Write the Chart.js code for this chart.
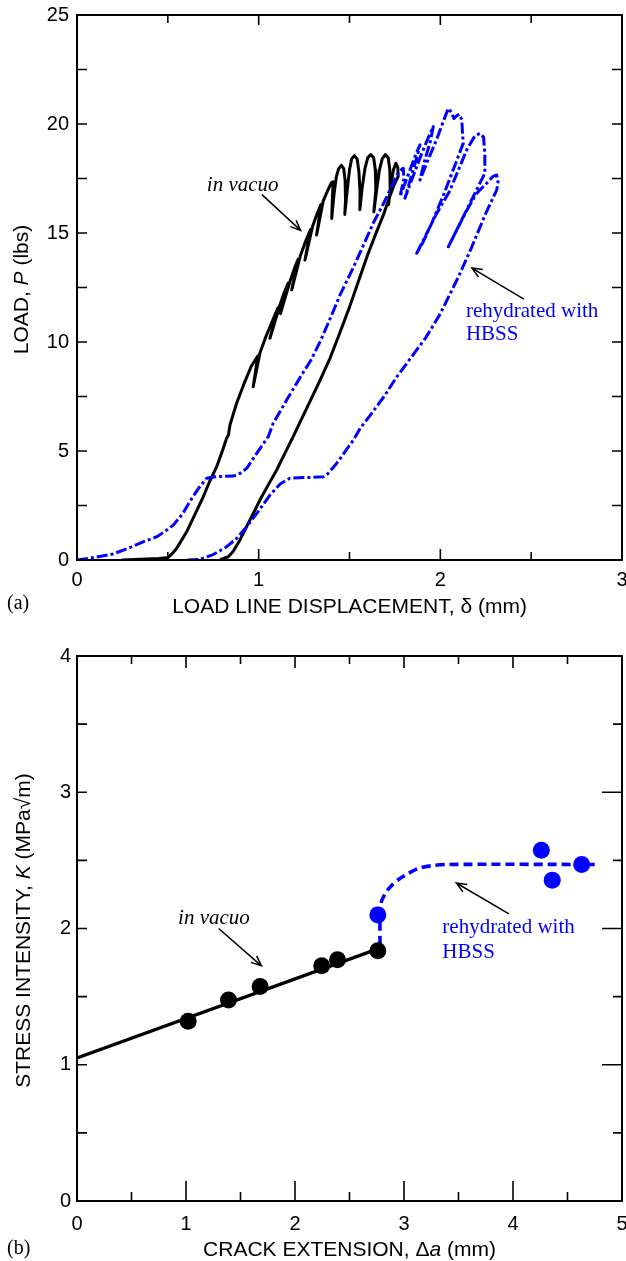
<!DOCTYPE html>
<html lang="en">
<head>
<meta charset="utf-8" />
<title>Load and stress intensity, in vacuo vs rehydrated</title>
<style>
  * { margin: 0; padding: 0; }
  body { width: 626px; height: 1261px; background: #fff; overflow: hidden; }
  .panel { position: absolute; left: 0; width: 626px; }
  #panelA { top: 0; height: 625px; }
  #panelB { top: 625px; height: 636px; }
</style>
</head>
<body>
<div class="panel" id="panelA"><canvas id="chartA" width="626" height="625"></canvas></div>
<div class="panel" id="panelB"><canvas id="chartB" width="626" height="636"></canvas></div>

<script src="https://cdn.jsdelivr.net/npm/chart.js"></script>
<script>
// ---------- panel (a): load vs load line displacement ----------
const dispTicks = [0, 1, 2, 3];
const loadTicks = [0, 5, 10, 15, 20, 25];

// [displacement mm, load lbs], in the order the trace was recorded
const vacuoCurve = [
  [0.246, 0.0], [0.35, 0.03], [0.45, 0.07], [0.502, 0.12], [0.525, 0.3], [0.549, 0.54],
  [0.575, 0.9], [0.604, 1.3], [0.65, 2.1], [0.695, 2.9], [0.73, 3.6], [0.769, 4.28],
  [0.80, 5.0], [0.824, 5.6], [0.834, 5.75], [0.842, 6.19], [0.879, 7.2], [0.92, 8.1],
  [0.96, 8.9], [0.995, 9.35],
  [0.97, 7.95], [1.007, 9.5], [1.04, 10.25], [1.08, 11.05], [1.106, 11.57],
  [1.062, 10.17], [1.118, 11.72], [1.14, 12.25], [1.1625, 12.7],
  [1.12, 11.3], [1.175, 12.85], [1.20, 13.45], [1.217, 13.79],
  [1.182, 12.39], [1.229, 13.94], [1.26, 14.65], [1.2855, 15.16],
  [1.255, 13.76], [1.297, 15.31], [1.32, 15.85], [1.343, 16.31],
  [1.319, 14.91], [1.355, 16.46], [1.38, 16.95], [1.40, 17.3],
  [1.41, 17.35], [1.405, 16.4], [1.402, 15.67],
  [1.415, 16.8], [1.428, 17.6], [1.44, 17.95], [1.455, 18.1], [1.468, 17.95], [1.476, 17.4], [1.478, 16.5], [1.474, 15.85],
  [1.488, 17.0], [1.50, 17.9], [1.512, 18.4], [1.527, 18.55], [1.542, 18.4], [1.552, 17.8], [1.558, 16.9], [1.557, 16.07],
  [1.57, 17.1], [1.585, 17.95], [1.60, 18.45], [1.617, 18.6], [1.633, 18.45], [1.642, 17.9], [1.645, 17.0], [1.634, 15.97],
  [1.65, 17.0], [1.665, 17.9], [1.68, 18.4], [1.697, 18.6], [1.713, 18.45], [1.722, 17.9], [1.724, 17.0], [1.715, 16.3],
  [1.73, 17.3], [1.742, 17.9], [1.755, 18.2], [1.766, 18.0], [1.768, 17.6], [1.745, 17.2],
  [1.71, 16.4], [1.69, 15.9], [1.645, 14.97], [1.60, 14.0], [1.557, 12.97], [1.50, 11.6],
  [1.447, 10.42], [1.39, 9.2], [1.337, 8.23], [1.282, 7.26], [1.235, 6.45], [1.19, 5.66],
  [1.145, 4.9], [1.099, 4.13], [1.05, 3.4], [1.007, 2.75], [0.95, 1.8], [0.897, 0.92],
  [0.86, 0.4], [0.833, 0.15], [0.80, 0.05], [0.787, 0.03]
];

const hbssCurve = [
  [0, 0], [0.1, 0.12], [0.2, 0.28], [0.3, 0.6], [0.37, 0.85], [0.44, 1.07], [0.49, 1.35],
  [0.53, 1.6], [0.58, 2.1], [0.62, 2.67], [0.67, 3.3], [0.714, 3.75], [0.76, 3.82],
  [0.86, 3.85], [0.90, 3.98], [0.934, 4.2], [0.99, 4.9], [1.053, 5.66], [1.08, 6.27],
  [1.154, 7.34], [1.23, 8.4], [1.29, 9.2], [1.34, 10.05], [1.40, 11.2], [1.45, 12.2],
  [1.52, 13.4], [1.58, 14.5], [1.63, 15.44], [1.69, 16.4], [1.74, 17.28], [1.77, 17.8],
  [1.796, 17.97], [1.80, 17.5], [1.778, 16.67],
  [1.82, 17.6], [1.86, 18.5], [1.888, 19.04], [1.875, 18.6], [1.84, 17.6], [1.805, 16.6],
  [1.85, 17.6], [1.90, 18.7], [1.94, 19.5], [1.961, 19.88], [1.945, 19.2], [1.91, 18.2], [1.888, 17.43],
  [1.93, 18.3], [1.98, 19.3], [2.02, 20.2], [2.044, 20.72], [2.06, 20.55], [2.075, 20.25],
  [2.09, 20.38], [2.105, 20.45], [2.118, 20.2], [2.122, 19.6], [2.126, 19.11],
  [2.08, 18.1], [2.02, 16.8], [1.95, 15.4], [1.90, 14.5], [1.87, 14.07],
  [1.92, 14.9], [1.98, 15.9], [2.05, 16.9], [2.10, 17.9], [2.145, 18.81], [2.19, 19.45],
  [2.218, 19.57], [2.238, 19.4], [2.245, 18.6], [2.245, 17.74],
  [2.181, 16.67], [2.108, 15.44], [2.07, 14.8], [2.044, 14.37],
  [2.1, 15.3], [2.15, 16.1], [2.2, 16.82], [2.255, 17.28], [2.29, 17.6], [2.31, 17.66],
  [2.318, 17.3], [2.31, 16.97],
  [2.25, 15.9], [2.17, 14.3], [2.1, 13.0], [2.0, 11.3], [1.92, 10.2], [1.84, 9.3],
  [1.76, 8.4], [1.69, 7.5], [1.62, 6.7], [1.56, 6.05], [1.521, 5.5], [1.47, 4.9],
  [1.429, 4.43], [1.38, 3.95], [1.356, 3.82], [1.30, 3.79], [1.25, 3.78], [1.172, 3.75],
  [1.12, 3.5], [1.062, 2.98], [1.0, 2.25], [0.934, 1.53], [0.88, 1.0], [0.824, 0.61],
  [0.75, 0.25], [0.677, 0.03], [0.604, 0.0]
];

// ---------- panel (b): stress intensity vs crack extension ----------
const crackTicks = [0, 1, 2, 3, 4, 5];
const kTicks = [0, 1, 2, 3, 4];

const vacuoCrack = [1.02, 1.39, 1.68, 2.245, 2.39, 2.76];
const vacuoK = [1.32, 1.475, 1.575, 1.726, 1.77, 1.837];
const hbssCrack = [2.76, 4.26, 4.36, 4.63];
const hbssK = [2.10, 2.575, 2.355, 2.47];

const vacuoFit = [[0, 1.05], [2.76, 1.85]];
const hbssFit = [
  [2.78, 1.88], [2.78, 2.10], [2.79, 2.19], [2.83, 2.26], [2.88, 2.31], [2.95, 2.36],
  [3.03, 2.40], [3.13, 2.44], [3.25, 2.46], [3.4, 2.47], [4.75, 2.47]
];

const BLUE = "#0000ff";
const SANS = '"Liberation Sans", Arial, sans-serif';
const SERIF = '"Liberation Serif", "Times New Roman", serif';

const toXY = (pairs) => pairs.map(([x, y]) => ({ x, y }));
const zipXY = (xs, ys) => xs.map((x, i) => ({ x, y: ys[i] }));

// text made of plain / italic pieces, centred on (cx, cy)
function richText(ctx, parts, cx, cy, angle) {
  ctx.save();
  ctx.translate(cx, cy);
  ctx.rotate(angle);
  ctx.fillStyle = "#000";
  ctx.textBaseline = "middle";
  ctx.textAlign = "left";
  const fontOf = (it) => (it ? "italic " : "") + "21px " + SANS;
  let total = 0;
  parts.forEach(([t, it]) => { ctx.font = fontOf(it); total += ctx.measureText(t).width; });
  let px = -total / 2;
  parts.forEach(([t, it]) => {
    ctx.font = fontOf(it);
    ctx.fillText(t, px, 0);
    px += ctx.measureText(t).width;
  });
  ctx.restore();
}

// inward ticks on all four sides plus the box
const frameTicks = {
  id: "frameTicks",
  afterDatasetsDraw(chart, args, o) {
    const { ctx, chartArea: a, scales: { x, y } } = chart;
    const isMajor = (v, step) => Math.abs(v - Math.round(v / step) * step) < 1e-6;
    ctx.save();
    ctx.strokeStyle = "#000";
    ctx.lineWidth = 1.6;
    ctx.beginPath();
    for (let v = x.min + o.xMinor; v < x.max - 1e-6; v += o.xMinor) {
      const px = x.getPixelForValue(v);
      const m = isMajor(v, o.xMajor);
      ctx.moveTo(px, a.bottom);
      ctx.lineTo(px, a.bottom - (m ? o.major.bottom : o.minor.bottom));
      ctx.moveTo(px, a.top);
      ctx.lineTo(px, a.top + (m ? o.major.top : o.minor.top));
    }
    for (let v = y.min + o.yMinor; v < y.max - 1e-6; v += o.yMinor) {
      const py = y.getPixelForValue(v);
      const m = isMajor(v, o.yMajor);
      ctx.moveTo(a.left, py);
      ctx.lineTo(a.left + (m ? o.major.left : o.minor.left), py);
      ctx.moveTo(a.right, py);
      ctx.lineTo(a.right - (m ? o.major.right : o.minor.right), py);
    }
    ctx.stroke();
    ctx.lineWidth = 2;
    ctx.strokeRect(a.left, a.top, a.right - a.left, a.bottom - a.top);
    ctx.restore();
  },
};

// axis titles, panel letter, curve labels and arrows
const notes = {
  id: "notes",
  afterDraw(chart, args, o) {
    const { ctx, chartArea: a, scales: { x, y } } = chart;
    richText(ctx, o.xTitle, (a.left + a.right) / 2, a.bottom + o.xTitleGap, 0);
    richText(ctx, o.yTitle, o.yTitleX, (a.top + a.bottom) / 2 + 2, -Math.PI / 2);

    ctx.save();
    ctx.fillStyle = "#000";
    ctx.textBaseline = "middle";
    ctx.textAlign = "left";
    ctx.font = "20px " + SERIF;
    ctx.fillText(o.letter, 7, a.bottom + o.letterGap);

    o.labels.forEach((l) => {
      ctx.font = (l.italic ? "italic " : "") + "21px " + SERIF;
      ctx.fillStyle = l.color;
      ctx.textAlign = l.align;
      ctx.fillText(l.text, x.getPixelForValue(l.x), y.getPixelForValue(l.y));
    });

    ctx.strokeStyle = "#000";
    ctx.lineWidth = 1.5;
    o.arrows.forEach(([x0, y0, x1, y1]) => {
      const ax = x.getPixelForValue(x0), ay = y.getPixelForValue(y0);
      const bx = x.getPixelForValue(x1), by = y.getPixelForValue(y1);
      const ang = Math.atan2(by - ay, bx - ax);
      ctx.beginPath();
      ctx.moveTo(ax, ay);
      ctx.lineTo(bx, by);
      ctx.moveTo(bx - 11 * Math.cos(ang - 0.4), by - 11 * Math.sin(ang - 0.4));
      ctx.lineTo(bx, by);
      ctx.lineTo(bx - 11 * Math.cos(ang + 0.4), by - 11 * Math.sin(ang + 0.4));
      ctx.stroke();
    });
    ctx.restore();
  },
};

function scaleOpts(values, min, max, side, size, pad) {
  return {
    type: "linear",
    min, max,
    afterBuildTicks: (s) => { s.ticks = values.map((v) => ({ value: v })); },
    afterFit: (s) => {
      if (side === "x") s.height = size; else s.width = size;
      s.paddingLeft = s.paddingRight = s.paddingTop = s.paddingBottom = 0;
    },
    grid: { display: false, drawTicks: false },
    border: { display: false },
    ticks: { color: "#000", padding: pad, font: { family: SANS, size: 20 }, autoSkip: false, maxRotation: 0 },
  };
}

function baseOptions(padTop, xScale, yScale, frame, note) {
  return {
    responsive: false,
    animation: false,
    layout: { autoPadding: false, padding: { top: padTop, right: 4, left: 0, bottom: 0 } },
    plugins: { legend: { display: false }, tooltip: { enabled: false }, frameTicks: frame, notes: note },
    scales: { x: xScale, y: yScale },
  };
}

// ---------- chart (a) ----------
new Chart(document.getElementById("chartA"), {
  type: "scatter",
  data: {
    datasets: [
      {
        data: toXY(hbssCurve), showLine: true, pointRadius: 0, borderColor: BLUE,
        borderWidth: 3, borderDash: [11, 3, 3, 3], tension: 0, borderJoinStyle: "round",
      },
      {
        data: toXY(vacuoCurve), showLine: true, pointRadius: 0, borderColor: "#000",
        borderWidth: 3, tension: 0, borderJoinStyle: "round",
      },
    ],
  },
  options: baseOptions(
    15,
    scaleOpts(dispTicks, 0, 3, "x", 65, 8),
    scaleOpts(loadTicks, 0, 25, "y", 77, 8),
    {
      xMajor: 1, xMinor: 0.5, yMajor: 5, yMinor: 2.5,
      major: { bottom: 11, top: 10, left: 10, right: 10 },
      minor: { bottom: 8, top: 8, left: 10, right: 10 },
    },
    {
      xTitle: [["LOAD LINE DISPLACEMENT, \u03b4 (mm)", false]],
      yTitle: [["LOAD, ", false], ["P", true], [" (lbs)", false]],
      xTitleGap: 47, yTitleX: 22, letter: "(a)", letterGap: 44,
      labels: [
        { text: "in vacuo", x: 0.912, y: 17.2, italic: true, color: "#000", align: "center" },
        { text: "rehydrated with", x: 2.141, y: 11.42, italic: false, color: BLUE, align: "left" },
        { text: "HBSS", x: 2.141, y: 10.33, italic: false, color: BLUE, align: "left" },
      ],
      arrows: [
        [1.018, 16.76, 1.231, 15.12],
        [2.46, 11.97, 2.174, 13.39],
      ],
    }
  ),
  plugins: [frameTicks, notes],
});

// ---------- chart (b) ----------
new Chart(document.getElementById("chartB"), {
  type: "scatter",
  data: {
    datasets: [
      { data: zipXY(hbssCrack, hbssK), pointRadius: 8.5, pointBackgroundColor: BLUE, pointBorderWidth: 0 },
      { data: zipXY(vacuoCrack, vacuoK), pointRadius: 8.5, pointBackgroundColor: "#000", pointBorderWidth: 0 },
      {
        data: toXY(hbssFit), showLine: true, pointRadius: 0, borderColor: BLUE,
        borderWidth: 3.6, borderDash: [9, 5], tension: 0.3,
      },
      {
        data: toXY(vacuoFit), showLine: true, pointRadius: 0, borderColor: "#000",
        borderWidth: 3.4, tension: 0,
      },
    ],
  },
  options: baseOptions(
    31,
    scaleOpts(crackTicks, 0, 5, "x", 60, 11),
    scaleOpts(kTicks, 0, 4, "y", 77, 6),
    {
      xMajor: 1, xMinor: 0.5, yMajor: 1, yMinor: 0.5,
      major: { bottom: 20, top: 12, left: 10, right: 20 },
      minor: { bottom: 9, top: 8, left: 10, right: 9 },
    },
    {
      xTitle: [["CRACK EXTENSION, \u0394", false], ["a", true], [" (mm)", false]],
      yTitle: [["STRESS INTENSITY, ", false], ["K", true], [" (MPa\u221am)", false]],
      xTitleGap: 49, yTitleX: 24, letter: "(b)", letterGap: 48,
      labels: [
        { text: "in vacuo", x: 1.256, y: 2.07, italic: true, color: "#000", align: "center" },
        { text: "rehydrated with", x: 3.352, y: 2.006, italic: false, color: BLUE, align: "left" },
        { text: "HBSS", x: 3.352, y: 1.825, italic: false, color: BLUE, align: "left" },
      ],
      arrows: [
        [1.30, 2.0, 1.692, 1.726],
        [3.963, 2.108, 3.48, 2.334],
      ],
    }
  ),
  plugins: [frameTicks, notes],
});
</script>
</body>
</html>
